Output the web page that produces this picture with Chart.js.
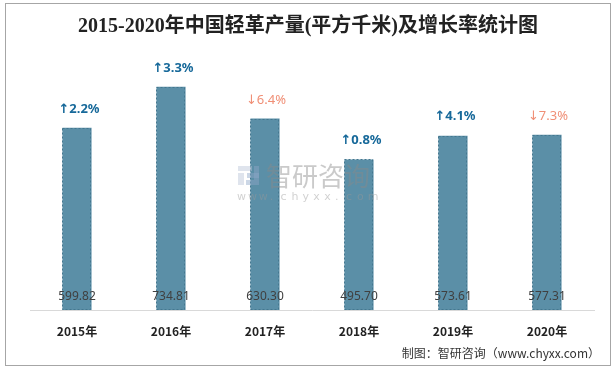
<!DOCTYPE html>
<html>
<head>
<meta charset="utf-8">
<script src="https://cdn.jsdelivr.net/npm/chart.js@4.4.0/dist/chart.umd.min.js"></script>
<style>
	html, body { margin: 0; padding: 0; background: #fff; }
	#wrap { width: 614px; height: 369px; position: relative; }
</style>
</head>
<body>
<div id="wrap"><canvas id="leather" width="614" height="369"></canvas></div>
<script>
var years = ['2015年', '2016年', '2017年', '2018年', '2019年', '2020年'];
var output = [599.82, 734.81, 630.30, 495.70, 573.61, 577.31];
var growth = [2.2, 3.3, -6.4, 0.8, 4.1, -7.3];

var titleText = '2015-2020年中国轻革产量(平方千米)及增长率统计图';
var sourceText = '制图：智研咨询（www.chyxx.com）';

// frame, title, footer and labels
var decorPlugin = {
	id: 'decor',
	beforeDraw: function(chart) {
		var ctx = chart.ctx;
		ctx.save();
		ctx.fillStyle = '#fff';
		ctx.fillRect(0, 0, chart.width, chart.height);
		ctx.strokeStyle = '#a6a6a6';
		ctx.lineWidth = 1;
		ctx.strokeRect(5.5, 3.5, 605, 362);
		ctx.fillStyle = '#222';
		ctx.font = 'bold 20px "Liberation Serif", "Noto Sans CJK SC"';
		ctx.textAlign = 'center';
		ctx.textBaseline = 'middle';
		ctx.fillText(titleText, 308, 27);
		ctx.fillStyle = '#333';
		ctx.font = '12px "Noto Sans CJK SC"';
		ctx.textAlign = 'right';
		ctx.fillText(sourceText, 600, 353);
		ctx.restore();
	},
	afterDatasetsDraw: function(chart) {
		var ctx = chart.ctx;
		var meta = chart.getDatasetMeta(0);
		var base = chart.scales.y.getPixelForValue(0);
		ctx.save();

		// dashed bar edges
		ctx.strokeStyle = '#44778f';
		ctx.lineWidth = 1;
		ctx.setLineDash([2, 2]);
		meta.data.forEach(function(bar) {
			var hw = bar.width / 2;
			ctx.strokeRect(Math.round(bar.x - hw) + 0.5, Math.round(bar.y) + 0.5, Math.round(bar.width) - 1, Math.round(base - bar.y) - 1);
		});
		ctx.setLineDash([]);

		// watermark
		ctx.globalAlpha = 0.45;
		ctx.fillStyle = '#b8c4d6';
		ctx.fillRect(238, 166, 14, 5);
		ctx.fillRect(238, 173, 6, 12);
		ctx.fillStyle = '#8ea6c8';
		ctx.fillRect(247, 173, 12, 5);
		ctx.fillRect(254, 166, 5, 19);
		ctx.fillRect(246, 180, 8, 5);
		ctx.fillStyle = '#8a8a8a';
		ctx.font = '26px "Noto Sans CJK SC"';
		ctx.textAlign = 'left';
		ctx.textBaseline = 'middle';
		ctx.fillText('智研咨询', 266, 176);
		ctx.font = '11px "DejaVu Sans"';
		ctx.fillStyle = '#999';
		var w = 'www.chyxx.com';
		for (var i = 0; i < w.length; i++) {
			ctx.fillText(w[i], 237 + i * 10.9, 197);
		}
		ctx.globalAlpha = 1;

		meta.data.forEach(function(bar, i) {
			ctx.textAlign = 'center';
			ctx.textBaseline = 'middle';
			ctx.fillStyle = '#404040';
			ctx.font = '12px "Noto Sans", "DejaVu Sans"';
			ctx.fillText(output[i].toFixed(2), bar.x, base - 13);

			var g = growth[i];
			if (g >= 0) {
				ctx.fillStyle = '#17699a';
				ctx.font = 'bold 13px "Noto Sans", "DejaVu Sans"';
				ctx.fillText('↑' + g.toFixed(1) + '%', bar.x + 2, bar.y - 19);
			} else {
				ctx.fillStyle = '#f08f76';
				ctx.font = '13px "Noto Sans", "DejaVu Sans"';
				ctx.fillText('↓' + Math.abs(g).toFixed(1) + '%', bar.x + 1, bar.y - 18);
			}
		});
		ctx.restore();
	}
};

var leather_chart = document.getElementById('leather').getContext('2d');
var leather = new Chart(leather_chart, {
	type: 'bar',
	data: {
		labels: years,
		datasets: [{
			label: '产量',
			data: output,
			backgroundColor: '#5b8fa7',
			borderWidth: 0,
			barPercentage: 0.31,
			categoryPercentage: 1
		}]
	},
	options: {
		responsive: false,
		animation: false,
		devicePixelRatio: 1,
		layout: {
			padding: { left: 30, right: 20, top: 67, bottom: 0 }
		},
		plugins: {
			legend: { display: false },
			tooltip: { enabled: false }
		},
		scales: {
			x: {
				afterFit: function(scale) {
					scale.height = 59;
				},
				grid: { display: false, drawTicks: false },
				border: { display: true, color: '#d9d9d9', width: 1 },
				ticks: {
					color: '#222',
					padding: 14,
					font: { family: '"Noto Sans CJK SC"', size: 12, weight: 'bold' }
				}
			},
			y: {
				display: false,
				min: 0,
				max: 800
			}
		}
	},
	plugins: [decorPlugin]
});
</script>
</body>
</html>
